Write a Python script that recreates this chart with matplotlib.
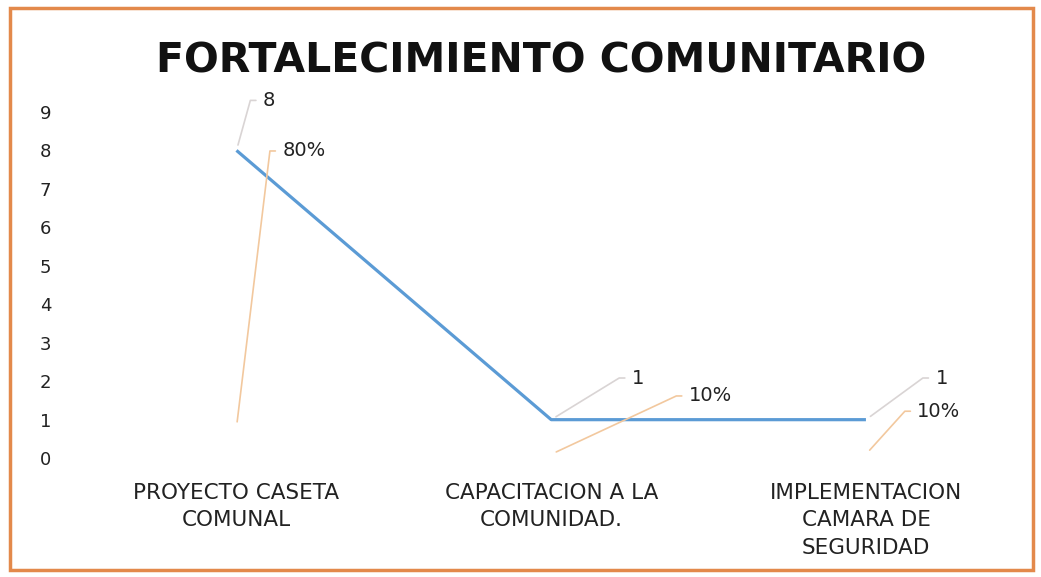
import math
import matplotlib
matplotlib.use("Agg")
import matplotlib.pyplot as plt
from matplotlib.patches import Rectangle

title = "FORTALECIMIENTO COMUNITARIO"
categories = ["PROYECTO CASETA\nCOMUNAL", "CAPACITACION A LA\nCOMUNIDAD.", "IMPLEMENTACION\nCAMARA DE\nSEGURIDAD"]
counts = [8, 1, 1]
shares = [0.8, 0.1, 0.1]
count_labels = ["8", "1", "1"]
share_labels = ["80%", "10%", "10%"]
yticks = list(range(0, 10))

fig = plt.figure(figsize=(10.41, 5.77), dpi=100)
fig.patch.set_facecolor("white")
fig.patches.append(Rectangle((0.010, 0.012), 0.982, 0.974, transform=fig.transFigure,
                             fill=False, edgecolor="#e3894b", linewidth=2.5))

ax = fig.add_axes([0.076, 0.206, 0.907, 0.600])
x = list(range(len(categories)))
ax.plot(x, counts, color="#5b9bd5", linewidth=2.3, solid_capstyle="butt")
ax.plot(x, shares, linestyle="none")
ax.set_xlim(-0.5, 2.5)
ax.set_ylim(0, 9)
ax.set_yticks(yticks)
ax.set_yticklabels([str(t) for t in yticks], fontsize=13, color="#222222")
ax.set_xticks(x)
ax.set_xticklabels(categories, fontsize=15.5, color="#222222", linespacing=1.45)
ax.tick_params(axis="y", length=0, pad=20)
ax.tick_params(axis="x", length=0, pad=18)
for s in ax.spines.values():
    s.set_visible(False)

fig.text(0.52, 0.893, title, ha="center", va="center", fontsize=29.5, fontweight="bold", color="#111111")

# data label offsets (points)
count_offsets = [(19, 36), (58, 30), (50, 30)]
share_offsets = [(33, 199), (99, 42), (37, 31)]


def leader(ox, oy, hook=9):
    ang = math.degrees(math.atan2(oy, ox - hook))
    return f"angle,angleA=0,angleB={ang:.1f},rad=0"


for i in x:
    ox, oy = count_offsets[i]
    ax.annotate(count_labels[i], xy=(i, counts[i]), xytext=(ox, oy), textcoords="offset points",
                ha="left", va="center", fontsize=14, color="#222222",
                arrowprops=dict(arrowstyle="-", color="#d9d4d4", lw=1.2, shrinkA=3, shrinkB=4,
                                relpos=(0, 0.5), connectionstyle=leader(ox, oy)))
    ox, oy = share_offsets[i]
    ax.annotate(share_labels[i], xy=(i, shares[i]), xytext=(ox, oy), textcoords="offset points",
                ha="left", va="center", fontsize=14, color="#222222",
                arrowprops=dict(arrowstyle="-", color="#f2c89e", lw=1.2, shrinkA=3, shrinkB=4,
                                relpos=(0, 0.5), connectionstyle=leader(ox, oy)))

fig.savefig("out.png", dpi=100)
